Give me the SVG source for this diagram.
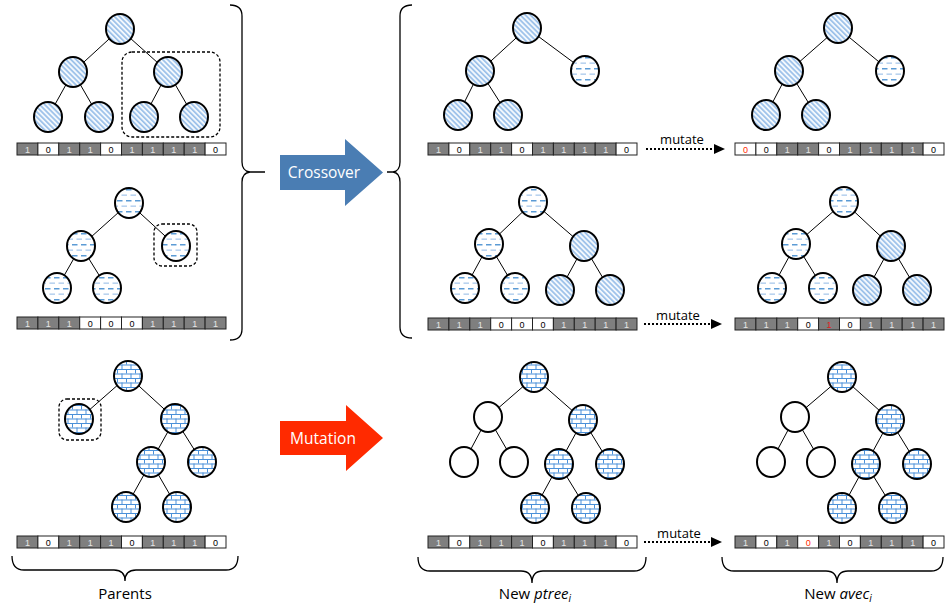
<svg xmlns="http://www.w3.org/2000/svg" xmlns:xlink="http://www.w3.org/1999/xlink" width="945" height="607" viewBox="0 0 945 607">
<style>
.edge{stroke:#000;stroke-width:1;fill:none}
.n{stroke:#000;stroke-width:2}
.st{fill:url(#stripe)}
.da{fill:url(#dash)}
.br{fill:url(#brick)}
.wh{fill:#fff}
.box{fill:none;stroke:#000;stroke-width:1.3;stroke-dasharray:3,2}
.brace{fill:none;stroke:#000;stroke-width:1.3}
.bt{font-family:"Liberation Sans",Arial,sans-serif;font-size:9px;text-anchor:middle}
.lbl{font-family:"Open Sans","DejaVu Sans",sans-serif;font-size:15px;text-anchor:middle;fill:#000}
.mut{font-family:"Open Sans","DejaVu Sans",sans-serif;font-size:13px;text-anchor:middle;fill:#000}
.big{font-family:"Open Sans","DejaVu Sans",sans-serif;font-size:15.5px;text-anchor:middle;fill:#fff}
.dot{stroke:#000;stroke-width:2;stroke-dasharray:2,2;fill:none}
</style>
<defs>
<pattern id="stripe" patternUnits="userSpaceOnUse" width="3.6" height="3.6" patternTransform="rotate(-45)">
<rect width="3.6" height="3.6" fill="#f3f8fd"/>
<rect width="1.7" height="3.6" fill="#9bc0e9"/>
</pattern>
<pattern id="dash" patternUnits="userSpaceOnUse" width="9" height="11">
<rect width="9" height="11" fill="#fff"/>
<rect x="0" y="2" width="5.5" height="1.5" fill="#5b9bd5"/>
<rect x="4.5" y="7.5" width="4.5" height="1.3" fill="#a9c9ec"/>
<rect x="0" y="7.5" width="1" height="1.3" fill="#a9c9ec"/>
</pattern>
<pattern id="brick" patternUnits="userSpaceOnUse" width="9" height="9">
<rect width="9" height="9" fill="#fff"/>
<rect x="0" y="0" width="9" height="1" fill="#4a90d9"/>
<rect x="0" y="4.5" width="9" height="1" fill="#4a90d9"/>
<rect x="0" y="0" width="1" height="4.5" fill="#4a90d9"/>
<rect x="4.5" y="4.5" width="1" height="4.5" fill="#4a90d9"/>
</pattern>
<g id="b1"><rect width="20.9" height="12" fill="#7f7f7f" stroke="#222" stroke-width="1"/><text x="10.45" y="9.5" class="bt" fill="#e6e6e6">1</text></g>
<g id="b0"><rect width="20.9" height="12" fill="#fff" stroke="#222" stroke-width="1"/><text x="10.45" y="9.5" class="bt" fill="#000">0</text></g>
<g id="r0"><rect width="20.9" height="12" fill="#fff" stroke="#222" stroke-width="1"/><text x="10.45" y="9.5" class="bt" fill="#ff2a00">0</text></g>
<g id="r1"><rect width="20.9" height="12" fill="#7f7f7f" stroke="#222" stroke-width="1"/><text x="10.45" y="9.5" class="bt" fill="#e0201a">1</text></g>
</defs>

<g id="connectors">
<!-- parent 1 -->
<line class="edge" x1="120" y1="29" x2="73" y2="72"/><line class="edge" x1="120" y1="29" x2="168" y2="72"/>
<line class="edge" x1="73" y1="72" x2="48" y2="117"/><line class="edge" x1="73" y1="72" x2="99" y2="117"/>
<line class="edge" x1="168" y1="72" x2="144" y2="117"/><line class="edge" x1="168" y1="72" x2="194" y2="117"/>
<!-- parent 2 -->
<line class="edge" x1="129" y1="203" x2="81" y2="246"/><line class="edge" x1="129" y1="203" x2="176" y2="246"/>
<line class="edge" x1="81" y1="246" x2="57" y2="288"/><line class="edge" x1="81" y1="246" x2="107" y2="288"/>
<!-- parent 3 -->
<line class="edge" x1="128" y1="376" x2="79" y2="419"/><line class="edge" x1="128" y1="376" x2="175" y2="419"/>
<line class="edge" x1="175" y1="419" x2="151" y2="462"/><line class="edge" x1="175" y1="419" x2="202" y2="462"/>
<line class="edge" x1="151" y1="462" x2="126" y2="507"/><line class="edge" x1="151" y1="462" x2="177" y2="507"/>
<!-- offspring 1 mid -->
<line class="edge" x1="527" y1="28" x2="480" y2="71"/><line class="edge" x1="527" y1="28" x2="585" y2="71"/>
<line class="edge" x1="480" y1="71" x2="458" y2="115"/><line class="edge" x1="480" y1="71" x2="508" y2="115"/>
<!-- offspring 1 right -->
<line class="edge" x1="838" y1="28" x2="789" y2="71"/><line class="edge" x1="838" y1="28" x2="890" y2="71"/>
<line class="edge" x1="789" y1="71" x2="766" y2="115"/><line class="edge" x1="789" y1="71" x2="816" y2="115"/>
<!-- offspring 2 mid -->
<line class="edge" x1="533" y1="202" x2="489" y2="244"/><line class="edge" x1="533" y1="202" x2="584" y2="246"/>
<line class="edge" x1="489" y1="244" x2="465" y2="288"/><line class="edge" x1="489" y1="244" x2="515" y2="288"/>
<line class="edge" x1="584" y1="246" x2="560" y2="290"/><line class="edge" x1="584" y1="246" x2="610" y2="290"/>
<!-- offspring 2 right -->
<line class="edge" x1="844" y1="202" x2="796" y2="244"/><line class="edge" x1="844" y1="202" x2="891" y2="246"/>
<line class="edge" x1="796" y1="244" x2="772" y2="288"/><line class="edge" x1="796" y1="244" x2="823" y2="288"/>
<line class="edge" x1="891" y1="246" x2="867" y2="290"/><line class="edge" x1="891" y1="246" x2="917" y2="290"/>
<!-- offspring 3 mid -->
<line class="edge" x1="534" y1="377" x2="488" y2="417"/><line class="edge" x1="534" y1="377" x2="583" y2="420"/>
<line class="edge" x1="488" y1="417" x2="464" y2="462"/><line class="edge" x1="488" y1="417" x2="514" y2="462"/>
<line class="edge" x1="583" y1="420" x2="559" y2="464"/><line class="edge" x1="583" y1="420" x2="610" y2="464"/>
<line class="edge" x1="559" y1="464" x2="535" y2="508"/><line class="edge" x1="559" y1="464" x2="586" y2="508"/>
<!-- offspring 3 right -->
<line class="edge" x1="842" y1="377" x2="795" y2="417"/><line class="edge" x1="842" y1="377" x2="890" y2="420"/>
<line class="edge" x1="795" y1="417" x2="771" y2="462"/><line class="edge" x1="795" y1="417" x2="821" y2="462"/>
<line class="edge" x1="890" y1="420" x2="866" y2="464"/><line class="edge" x1="890" y1="420" x2="917" y2="464"/>
<line class="edge" x1="866" y1="464" x2="842" y2="508"/><line class="edge" x1="866" y1="464" x2="893" y2="508"/>
<!-- mutate arrows -->
<line class="dot" x1="646" y1="149" x2="716" y2="149"/><polygon points="714,144 725,149 714,154" fill="#000"/>
<line class="dot" x1="644" y1="324" x2="712" y2="324"/><polygon points="711,319 722,324 711,329" fill="#000"/>
<line class="dot" x1="644" y1="542" x2="712" y2="542"/><polygon points="711,537 722,542 711,547" fill="#000"/>
</g>

<g id="mutate-labels">
<text class="mut" x="682" y="144">mutate</text>
<text class="mut" x="678" y="320">mutate</text>
<text class="mut" x="679" y="538">mutate</text>
</g>

<g id="parent1">
<ellipse class="n st" cx="120" cy="29" rx="14" ry="15"/>
<ellipse class="n st" cx="73" cy="72" rx="14" ry="15"/>
<ellipse class="n st" cx="168" cy="72" rx="14" ry="15"/>
<ellipse class="n st" cx="48" cy="117" rx="14" ry="15"/>
<ellipse class="n st" cx="99" cy="117" rx="14" ry="15"/>
<ellipse class="n st" cx="144" cy="117" rx="14" ry="15"/>
<ellipse class="n st" cx="194" cy="117" rx="14" ry="15"/>
<rect class="box" x="122" y="52" width="98" height="85" rx="10"/>
</g>
<g id="parent2">
<ellipse class="n da" cx="129" cy="203" rx="14" ry="15"/>
<ellipse class="n da" cx="81" cy="246" rx="14" ry="15"/>
<ellipse class="n da" cx="176" cy="246" rx="14" ry="15"/>
<ellipse class="n da" cx="57" cy="288" rx="14" ry="15"/>
<ellipse class="n da" cx="107" cy="288" rx="14" ry="15"/>
<rect class="box" x="154" y="224" width="43" height="42" rx="8"/>
</g>
<g id="parent3">
<ellipse class="n br" cx="128" cy="376" rx="14" ry="15"/>
<ellipse class="n br" cx="79" cy="419" rx="14" ry="15"/>
<ellipse class="n br" cx="175" cy="419" rx="14" ry="15"/>
<ellipse class="n br" cx="151" cy="462" rx="14" ry="15"/>
<ellipse class="n br" cx="202" cy="462" rx="14" ry="15"/>
<ellipse class="n br" cx="126" cy="507" rx="14" ry="15"/>
<ellipse class="n br" cx="177" cy="507" rx="14" ry="15"/>
<rect class="box" x="59" y="399" width="42" height="41" rx="8"/>
</g>

<g id="offspring1-ptree">
<ellipse class="n st" cx="527" cy="28" rx="14" ry="15"/>
<ellipse class="n st" cx="480" cy="71" rx="14" ry="15"/>
<ellipse class="n da" cx="585" cy="71" rx="14" ry="15"/>
<ellipse class="n st" cx="458" cy="115" rx="14" ry="15"/>
<ellipse class="n st" cx="508" cy="115" rx="14" ry="15"/>
</g>
<g id="offspring1-avec">
<ellipse class="n st" cx="838" cy="28" rx="14" ry="15"/>
<ellipse class="n st" cx="789" cy="71" rx="14" ry="15"/>
<ellipse class="n da" cx="890" cy="71" rx="14" ry="15"/>
<ellipse class="n st" cx="766" cy="115" rx="14" ry="15"/>
<ellipse class="n st" cx="816" cy="115" rx="14" ry="15"/>
</g>
<g id="offspring2-ptree">
<ellipse class="n da" cx="533" cy="202" rx="14" ry="15"/>
<ellipse class="n da" cx="489" cy="244" rx="14" ry="15"/>
<ellipse class="n st" cx="584" cy="246" rx="14" ry="15"/>
<ellipse class="n da" cx="465" cy="288" rx="14" ry="15"/>
<ellipse class="n da" cx="515" cy="288" rx="14" ry="15"/>
<ellipse class="n st" cx="560" cy="290" rx="14" ry="15"/>
<ellipse class="n st" cx="610" cy="290" rx="14" ry="15"/>
</g>
<g id="offspring2-avec">
<ellipse class="n da" cx="844" cy="202" rx="14" ry="15"/>
<ellipse class="n da" cx="796" cy="244" rx="14" ry="15"/>
<ellipse class="n st" cx="891" cy="246" rx="14" ry="15"/>
<ellipse class="n da" cx="772" cy="288" rx="14" ry="15"/>
<ellipse class="n da" cx="823" cy="288" rx="14" ry="15"/>
<ellipse class="n st" cx="867" cy="290" rx="14" ry="15"/>
<ellipse class="n st" cx="917" cy="290" rx="14" ry="15"/>
</g>
<g id="offspring3-ptree">
<ellipse class="n br" cx="534" cy="377" rx="14" ry="15"/>
<ellipse class="n wh" cx="488" cy="417" rx="14" ry="15"/>
<ellipse class="n br" cx="583" cy="420" rx="14" ry="15"/>
<ellipse class="n wh" cx="464" cy="462" rx="14" ry="15"/>
<ellipse class="n wh" cx="514" cy="462" rx="14" ry="15"/>
<ellipse class="n br" cx="559" cy="464" rx="14" ry="15"/>
<ellipse class="n br" cx="610" cy="464" rx="14" ry="15"/>
<ellipse class="n br" cx="535" cy="508" rx="14" ry="15"/>
<ellipse class="n br" cx="586" cy="508" rx="14" ry="15"/>
</g>
<g id="offspring3-avec">
<ellipse class="n br" cx="842" cy="377" rx="14" ry="15"/>
<ellipse class="n wh" cx="795" cy="417" rx="14" ry="15"/>
<ellipse class="n br" cx="890" cy="420" rx="14" ry="15"/>
<ellipse class="n wh" cx="771" cy="462" rx="14" ry="15"/>
<ellipse class="n wh" cx="821" cy="462" rx="14" ry="15"/>
<ellipse class="n br" cx="866" cy="464" rx="14" ry="15"/>
<ellipse class="n br" cx="917" cy="464" rx="14" ry="15"/>
<ellipse class="n br" cx="842" cy="508" rx="14" ry="15"/>
<ellipse class="n br" cx="893" cy="508" rx="14" ry="15"/>
</g>

<g id="vec-p1">
<use href="#b1" x="17" y="143"/><use href="#b0" x="37.9" y="143"/><use href="#b1" x="58.8" y="143"/><use href="#b1" x="79.7" y="143"/><use href="#b0" x="100.6" y="143"/><use href="#b1" x="121.5" y="143"/><use href="#b1" x="142.4" y="143"/><use href="#b1" x="163.3" y="143"/><use href="#b1" x="184.2" y="143"/><use href="#b0" x="205.1" y="143"/>
</g>
<g id="vec-p2">
<use href="#b1" x="17" y="317"/><use href="#b1" x="37.9" y="317"/><use href="#b1" x="58.8" y="317"/><use href="#b0" x="79.7" y="317"/><use href="#b0" x="100.6" y="317"/><use href="#b0" x="121.5" y="317"/><use href="#b1" x="142.4" y="317"/><use href="#b1" x="163.3" y="317"/><use href="#b1" x="184.2" y="317"/><use href="#b1" x="205.1" y="317"/>
</g>
<g id="vec-p3">
<use href="#b1" x="17" y="536"/><use href="#b0" x="37.9" y="536"/><use href="#b1" x="58.8" y="536"/><use href="#b1" x="79.7" y="536"/><use href="#b1" x="100.6" y="536"/><use href="#b0" x="121.5" y="536"/><use href="#b1" x="142.4" y="536"/><use href="#b1" x="163.3" y="536"/><use href="#b1" x="184.2" y="536"/><use href="#b0" x="205.1" y="536"/>
</g>
<g id="vec-m1">
<use href="#b1" x="428" y="143"/><use href="#b0" x="448.9" y="143"/><use href="#b1" x="469.8" y="143"/><use href="#b1" x="490.7" y="143"/><use href="#b0" x="511.6" y="143"/><use href="#b1" x="532.5" y="143"/><use href="#b1" x="553.4" y="143"/><use href="#b1" x="574.3" y="143"/><use href="#b1" x="595.2" y="143"/><use href="#b0" x="616.1" y="143"/>
</g>
<g id="vec-m2">
<use href="#b1" x="428" y="318"/><use href="#b1" x="448.9" y="318"/><use href="#b1" x="469.8" y="318"/><use href="#b0" x="490.7" y="318"/><use href="#b0" x="511.6" y="318"/><use href="#b0" x="532.5" y="318"/><use href="#b1" x="553.4" y="318"/><use href="#b1" x="574.3" y="318"/><use href="#b1" x="595.2" y="318"/><use href="#b1" x="616.1" y="318"/>
</g>
<g id="vec-m3">
<use href="#b1" x="428" y="536"/><use href="#b0" x="448.9" y="536"/><use href="#b1" x="469.8" y="536"/><use href="#b1" x="490.7" y="536"/><use href="#b1" x="511.6" y="536"/><use href="#b0" x="532.5" y="536"/><use href="#b1" x="553.4" y="536"/><use href="#b1" x="574.3" y="536"/><use href="#b1" x="595.2" y="536"/><use href="#b0" x="616.1" y="536"/>
</g>
<g id="vec-r1">
<use href="#r0" x="735" y="143"/><use href="#b0" x="755.9" y="143"/><use href="#b1" x="776.8" y="143"/><use href="#b1" x="797.7" y="143"/><use href="#b0" x="818.6" y="143"/><use href="#b1" x="839.5" y="143"/><use href="#b1" x="860.4" y="143"/><use href="#b1" x="881.3" y="143"/><use href="#b1" x="902.2" y="143"/><use href="#b0" x="923.1" y="143"/>
</g>
<g id="vec-r2">
<use href="#b1" x="735" y="318"/><use href="#b1" x="755.9" y="318"/><use href="#b1" x="776.8" y="318"/><use href="#b0" x="797.7" y="318"/><use href="#r1" x="818.6" y="318"/><use href="#b0" x="839.5" y="318"/><use href="#b1" x="860.4" y="318"/><use href="#b1" x="881.3" y="318"/><use href="#b1" x="902.2" y="318"/><use href="#b1" x="923.1" y="318"/>
</g>
<g id="vec-r3">
<use href="#b1" x="735" y="536"/><use href="#b0" x="755.9" y="536"/><use href="#b1" x="776.8" y="536"/><use href="#r0" x="797.7" y="536"/><use href="#b1" x="818.6" y="536"/><use href="#b0" x="839.5" y="536"/><use href="#b1" x="860.4" y="536"/><use href="#b1" x="881.3" y="536"/><use href="#b1" x="902.2" y="536"/><use href="#b0" x="923.1" y="536"/>
</g>

<g id="braces">
<path class="brace" d="M230,5 Q242,5 242,16 L242,162 Q242,171 250,172 L265,172 M250,172 Q242,173 242,182 L242,329 Q242,340 230,340"/>
<path class="brace" d="M412,5 Q400,5 400,16 L400,162 Q400,171 393,172 L387,172 M393,172 Q400,173 400,182 L400,327 Q400,338 412,338"/>
<path class="brace" d="M12,556 Q12,570 24,570 L114,570 Q125,570 125,581 Q125,570 136,570 L226,570 Q238,570 238,556"/>
<path class="brace" d="M418,557 Q418,571 430,571 L521,571 Q532,571 532,583 Q532,571 543,571 L634,571 Q646,571 646,557"/>
<path class="brace" d="M722,557 Q722,571 734,571 L826,571 Q837,571 837,583 Q837,571 848,571 L931,571 Q943,571 943,557"/>
</g>

<g id="crossover-arrow">
<polygon points="280,155 345,155 345,139 383,172.5 345,206 345,190 280,190" fill="#4a7db3"/>
<text class="big" x="324" y="178">Crossover</text>
</g>
<g id="mutation-arrow">
<polygon points="280,421 346,421 346,405 383,438 346,471 346,455 280,455" fill="#ff2a00"/>
<text class="big" x="323" y="444">Mutation</text>
</g>

<g id="labels">
<text class="lbl" x="125" y="599">Parents</text>
<text class="lbl" x="535" y="599">New <tspan font-style="italic">ptree</tspan><tspan font-style="italic" font-size="10px" dy="3">i</tspan></text>
<text class="lbl" x="838" y="599">New <tspan font-style="italic">avec</tspan><tspan font-style="italic" font-size="10px" dy="3">i</tspan></text>
</g>
</svg>
